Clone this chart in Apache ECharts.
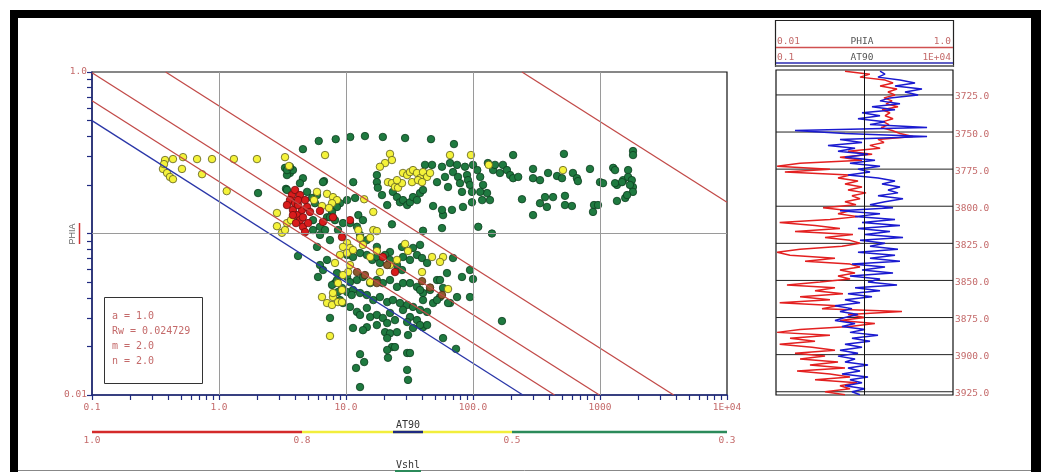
<!DOCTYPE html>
<html><head><meta charset="utf-8">
<script src="https://cdn.jsdelivr.net/npm/echarts@6/dist/echarts.min.js"></script>
<style>html,body{margin:0;padding:0;background:#fff}#c{width:1041px;height:472px}</style>
</head><body><div id="c"></div>
<script>
// ---------- DATA ----------
// Pickett plot: [AT90, PHIA]
const greenPts = [
[6.1,0.374],[8.3,0.384],[10.8,0.396],[14.1,0.401],[19.5,0.396],[29.2,0.39],[46.7,0.384],[70.8,0.358],[4.58,0.333],[207,0.306],[520,0.311],[1820,0.324],[1820,0.306],
[2.03,0.178],[3.31,0.255],[3.62,0.237],[3.43,0.23],[3.82,0.247],[4.58,0.22],[4.34,0.205],[6.71,0.211],[11.4,0.208],[3.37,0.189],[3.43,0.247],[3.62,0.259],[6.59,0.208],[3.43,0.186],[5.91,0.173],
[17.5,0.23],[17.5,0.208],[17.8,0.192],[19.2,0.173],[21.1,0.15],[23.4,0.181],[25.2,0.168],[26.6,0.156],[28.1,0.161],[30.3,0.15],[31.9,0.156],[33.7,0.168],[36.2,0.161],[38.3,0.178],[40.4,0.186],[41.9,0.266],[47.6,0.266],[52.1,0.208],[57,0.259],[60.2,0.224],[63.6,0.194],[65.9,0.273],[69.6,0.24],[74.9,0.266],[76.2,0.224],[79,0.205],[81.9,0.181],[86.5,0.259],[89.7,0.23],[91.3,0.214],[94.7,0.2],[98.2,0.181],[100,0.266],[108,0.247],[114,0.224],[120,0.2],[129,0.178],[131,0.273],[144,0.247],[136,0.161],[118,0.161],[98.2,0.156],[83.4,0.146],[68.3,0.14],[58.1,0.13],[57,0.14],[48.5,0.148],[114,0.181],[149,0.266],[163,0.237],[172,0.266],[185,0.247],[196,0.23],[207,0.22],[227,0.224],[243,0.163],[297,0.251],[297,0.22],[297,0.13],[337,0.214],[369,0.168],[390,0.237],[427,0.168],[459,0.227],[502,0.22],[530,0.15],[530,0.171],[601,0.148],[612,0.237],[658,0.22],[670,0.211],[834,0.251],[1000,0.208],[897,0.15],[964,0.15],[1056,0.205],[1270,0.255],[1360,0.2],[1360,0.159],[1520,0.214],[1580,0.166],[1665,0.247],[1665,0.224],[1780,0.214],[1816,0.194],[1816,0.181],[1720,0.2],[1634,0.173],[1490,0.208],[881,0.136],[1314,0.205],[1314,0.247],[337,0.154],[382,0.146],[23,0.114],[110,0.11],[141,0.1],[57,0.108],[40.4,0.104],
[11.8,0.166],[10.2,0.161],[8.97,0.154],[8.49,0.146],[7.76,0.136],[7.09,0.126],[5.5,0.121],[5.5,0.105],[6.24,0.098],[5.91,0.0826],[7.48,0.091],[8.65,0.105],[10.75,0.116],[12.2,0.11],[12.9,0.098],[14.6,0.091],[17.5,0.0826],[22.2,0.0768],[27.6,0.0826],[33.7,0.0814],[38.3,0.085],[4.94,0.181],[5.4,0.166],[5.7,0.154],[6.24,0.11],[6.84,0.105],[7.48,0.126],[8.19,0.121],[9.47,0.116],[12.5,0.13],[13.6,0.121],
[4.19,0.0726],[6.24,0.0638],[6.59,0.0594],[6.02,0.0538],[8.19,0.0493],[7.76,0.048],[8.65,0.0434],[10.2,0.0736],[11.35,0.0715],[12.9,0.0757],[14.6,0.0736],[16.1,0.0686],[17.5,0.0715],[18.5,0.0657],[20.3,0.0736],[22.2,0.0686],[25.2,0.0638],[27.6,0.0594],[28.1,0.0715],[31.9,0.0686],[36.2,0.0736],[39.7,0.0705],[43.5,0.0657],[10.2,0.0538],[10.75,0.05],[12.2,0.0515],[13.6,0.0538],[15.5,0.0493],[17.5,0.0515],[19.5,0.0493],[22.2,0.0515],[25.2,0.0467],[28.1,0.0493],[31.9,0.0493],[36.2,0.0467],[40.4,0.0428],[45.9,0.0447],[52.1,0.0515],[55,0.0404],[65.9,0.0371],[74.9,0.0404],[9.3,0.046],[10.2,0.0434],[11.35,0.0447],[12.9,0.0428],[14.6,0.0416],[16.4,0.0387],[18.5,0.0404],[21.1,0.0376],[23.4,0.0387],[26.6,0.0371],[30.3,0.0361],[33.7,0.0351],[38.3,0.0336],[43.5,0.0327],[48.5,0.0371],[10.75,0.0351],[12.2,0.0327],[12.9,0.0313],[14.6,0.0346],[15.5,0.0304],[17.5,0.0313],[19.5,0.03],[22.2,0.0322],[24.3,0.0291],[28.1,0.0336],[31.9,0.0304],[36.2,0.0291],[40.4,0.0263],[33.7,0.026],[30.3,0.0283],[21.1,0.0279],[14.6,0.0263],[13.6,0.0252],[11.35,0.026],[20.3,0.0245],[22.2,0.0241],[25.2,0.0245],[21.1,0.0225],[23,0.0198],[24.3,0.0198],[21.1,0.019],[30.8,0.0235],[30.3,0.0182],[30.3,0.0143],[30.8,0.0124],[12.9,0.0179],[13.9,0.016],[12,0.0147],[12.9,0.0112],[7.48,0.03],[58.1,0.0225],[73.5,0.0193],[94.7,0.0404],[81.9,0.0538],[94.7,0.0594],[100,0.0522],[69.6,0.0705],[55,0.0515],[63.6,0.0371],[9.47,0.0371],[8.97,0.0387],[11.1,0.0416],[8.49,0.0515],[8.49,0.0569],[7.09,0.0686],[169,0.0287],[62.4,0.0569],[58.1,0.046],[52.1,0.0387],[38.3,0.0447],[40.4,0.0387],[43.5,0.0271],[38.3,0.0271],[31.9,0.0182],[17.5,0.0271],[21.4,0.017]
];
const yellowPts = [
[0.376,0.285],[0.434,0.289],[0.521,0.297],[0.672,0.289],[0.881,0.289],[1.31,0.289],[1.99,0.289],[3.31,0.297],[6.84,0.306],[0.362,0.251],[0.39,0.237],[0.411,0.224],[0.434,0.217],[0.511,0.251],[0.735,0.233],[1.15,0.183],[0.369,0.269],[3.56,0.262],
[22.2,0.311],[23,0.285],[20.3,0.273],[18.5,0.259],[21.4,0.208],[23,0.205],[24.3,0.194],[25.7,0.192],[28.1,0.237],[30.3,0.23],[31.9,0.24],[33.7,0.247],[36.2,0.237],[38.3,0.22],[40.4,0.24],[43.5,0.224],[45.9,0.237],[33.1,0.208],[36.9,0.214],[39.7,0.208],[27.6,0.205],[25.2,0.214],[65.9,0.306],[96.4,0.306],[133,0.266],[511,0.247],
[2.86,0.134],[2.86,0.111],[3.13,0.101],[3.31,0.105],[3.43,0.116],[3.69,0.121],[5.91,0.181],[7.09,0.176],[7.9,0.168],[8.49,0.161],[7.76,0.154],[7.35,0.144],[6.47,0.148],[5.6,0.161],[13.9,0.163],[16.4,0.136],[16.4,0.105],[17.5,0.1035],[15.5,0.094],[12.9,0.094],[12.5,0.105],[10.2,0.0872],[10.75,0.0814],[9.47,0.0826],[10.2,0.0757],[29.2,0.0862],[30.8,0.0779],[47.6,0.0715],[58.1,0.0715],[55,0.0667],[39.7,0.0577],[63.6,0.0453],[13.6,0.085],[11.35,0.079],[15.5,0.0715],[17.5,0.0779],
[6.47,0.0404],[7.09,0.0371],[7.76,0.0361],[7.9,0.0404],[8.65,0.0376],[9.3,0.0376],[7.9,0.0428],[7.48,0.0232],[8.19,0.0657],[8.65,0.0493],[9.3,0.0447],[10.4,0.0577],[9.47,0.0553],[8.97,0.0736],[10.75,0.0638],[15.5,0.05],[18.5,0.0577],[22.2,0.0638],[25.2,0.0686]
];
const redPts = [
[3.75,0.173],[3.62,0.161],[3.82,0.14],[4.12,0.13],[4.34,0.121],[4.58,0.126],[3.97,0.154],[4.5,0.14],[4.94,0.146],[5.21,0.136],[4.58,0.11],[4.76,0.102],[6.24,0.138],[6.59,0.118],[7.9,0.126],[10.75,0.121],[9.3,0.095],[19.5,0.0715],[24.3,0.0577],[3.43,0.15],[4.19,0.15],[4.04,0.116],[3.97,0.186],[4.34,0.173],[4.76,0.161],[4.19,0.161],[3.82,0.13],[5.03,0.116]
];
const brownPts = [[12.2,0.0577],[14.1,0.0553],[17.5,0.0493],[21.1,0.0638],[39.7,0.0507],[45.9,0.0463],[57,0.0416]];

// Pickett lines (a=1, Rw=0.024729, m=2, n=2), endpoints [AT90, PHIA]
const lineSw100 = [[0.1,0.5],[247,0.01]];
const lineSw75  = [[0.1,0.663],[439,0.01]];
const lineSw50  = [[0.1,0.99],[989,0.01]];
const lineSw25  = [[0.38,1.0],[3800,0.01]];
const lineSwLow = [[243,1.0],[10000,0.156]];

// axis ticks and grid lines
const xAllTicks = [0.1,0.2,0.3,0.4,0.5,0.6,0.7,0.8,0.9,1,2,3,4,5,6,7,8,9,10,20,30,40,50,60,70,80,90,100,200,300,400,500,600,700,800,900,1000,2000,3000,4000,5000,6000,7000,8000,9000,10000];
const yAllTicks = [0.01,0.02,0.03,0.04,0.05,0.06,0.07,0.08,0.09,0.1,0.2,0.3,0.4,0.5,0.6,0.7,0.8,0.9,1];
const xGridValues = [1,10,100,1000];
const yGridValues = [0.1];
const xTickLabels = {'-1':'0.1','0':'1.0','1':'10.0','2':'100.0','3':'1000','4':'1E+04'};
const yTickLabels = {'0':'1.0','-2':'0.01'};

// Vshl colour classes
const vshlBreaks = ['1.0','0.8','0.5','0.3'];
const paramLines = ['a = 1.0','Rw = 0.024729','m = 2.0','n = 2.0'];

// Depth track
const depthTicks = [3725,3750,3775,3800,3825,3850,3875,3900,3925];
const trackDepth = [3709,3711,3713,3715,3717,3719,3721,3723,3725,3727,3729,3731,3733,3735,3737,3739,3741,3743,3745,3747,3749,3751,3753,3755,3757,3759,3761,3763,3765,3767,3769,3771,3773,3775,3777,3779,3781,3783,3785,3787,3789,3791,3793,3795,3797,3799,3801,3803,3805,3807,3809,3811,3813,3815,3817,3819,3821,3823,3825,3827,3829,3831,3833,3835,3837,3839,3841,3843,3845,3847,3849,3851,3853,3855,3857,3859,3861,3863,3865,3867,3869,3871,3873,3875,3877,3879,3881,3883,3885,3887,3889,3891,3893,3895,3897,3899,3901,3903,3905,3907,3909,3911,3913,3915,3917,3919,3921,3923,3925,3927];
const trackPHIA = [0.0602,0.115,0.0889,0.171,0.21,0.15,0.233,0.184,0.221,0.166,0.205,0.175,0.239,0.158,0.194,0.171,0.21,0.162,0.189,0.154,0.205,0.252,0.353,0.142,0.166,0.115,0.15,0.0651,0.122,0.0528,0.0937,0.0187,0.0103,0.0407,0.0126,0.0686,0.0502,0.0845,0.0602,0.0937,0.0651,0.104,0.0722,0.0889,0.0602,0.0801,0.034,0.0686,0.0502,0.0845,0.0407,0.011,0.0276,0.0528,0.0164,0.0741,0.0358,0.0686,0.0889,0.0557,0.0187,0.0103,0.0144,0.0464,0.0213,0.0686,0.0889,0.0528,0.0781,0.0502,0.0686,0.0314,0.0133,0.0464,0.0276,0.0571,0.0187,0.0407,0.011,0.0502,0.0331,0.265,0.0651,0.101,0.0528,0.131,0.0686,0.0187,0.0103,0.0407,0.0144,0.0276,0.011,0.0255,0.0464,0.0164,0.0358,0.0187,0.0502,0.0242,0.0602,0.0173,0.0407,0.0686,0.0276,0.0823,0.0528,0.0686,0.0358,0.0602];
const trackAT90 = [86.7,120,76.1,318,845,230,1330,441,1030,166,86.7,318,51.5,230,26.9,86.7,20.7,120,45.2,1850,0.344,8.89,1850,6.43,26.9,2.94,17.1,5.64,39.7,8.89,62.6,12.3,86.7,20.7,45.2,10.8,76.1,230,98.7,318,146,279,76.1,387,120,45.2,202,6.43,86.7,17.1,230,26.9,318,20.7,166,32.7,387,23.6,120,45.2,279,20.7,230,45.2,318,14.0,120,26.9,202,12.3,86.7,39.7,262,17.1,86.7,10.8,51.5,8.89,23.6,4.64,14.0,6.43,20.7,8.89,4.64,17.1,7.31,32.7,12.3,76.1,14.0,45.2,8.89,26.9,6.43,20.7,5.64,17.1,8.89,39.7,10.8,23.6,7.31,39.7,12.3,26.9,8.89,32.7,14.0,23.6];

// ---------- STYLE ----------
const LBL = '#c46a6a';
const AX = '#1f2a80';
const MONO = '"DejaVu Sans Mono", monospace';
const RED_LINE = '#c24a48';

const chart = echarts.init(document.getElementById('c'), null, {renderer:'canvas'});

function scatter(name, data, fill, border) {
  return {name, type:'scatter', xAxisIndex:0, yAxisIndex:0, data, symbolSize:7.5, z:2,
    itemStyle:{color:fill, borderColor:border, borderWidth:0.8, opacity:1}, silent:true};
}
function pline(data, color) {
  return {type:'line', xAxisIndex:0, yAxisIndex:0, data, showSymbol:false, symbol:'none', z:4,
    lineStyle:{color, width:1.3}, silent:true};
}

const graphics = [
  {type:'rect', shape:{x:10,y:10,width:1031,height:8}, style:{fill:'#000'}},
  {type:'rect', shape:{x:10,y:10,width:8,height:462}, style:{fill:'#000'}},
  {type:'rect', shape:{x:1031,y:10,width:10,height:462}, style:{fill:'#000'}},
  {type:'line', shape:{x1:18,y1:470.5,x2:1031,y2:470.5}, style:{stroke:'#888',lineWidth:1}},
  {type:'text', x:73, y:234, rotation:Math.PI/2, style:{text:'PHIA', fill:'#666', font:'9px "Liberation Sans"', align:'center', verticalAlign:'middle'}},
  {type:'line', shape:{x1:79.5,y1:223,x2:79.5,y2:244}, style:{stroke:'#d03030', lineWidth:1.5}},
  {type:'text', x:408, y:425, style:{text:'AT90', fill:'#333', font:'10px '+MONO, align:'center', verticalAlign:'middle'}},
  {type:'line', shape:{x1:92,y1:432,x2:302,y2:432}, style:{stroke:'#d42a2a', lineWidth:2.5}},
  {type:'line', shape:{x1:302,y1:432,x2:512,y2:432}, style:{stroke:'#f2ee3c', lineWidth:2.5}},
  {type:'line', shape:{x1:512,y1:432,x2:727,y2:432}, style:{stroke:'#2b8a5a', lineWidth:2.5}},
  {type:'line', shape:{x1:393,y1:432,x2:423,y2:432}, style:{stroke:'#1f2a80', lineWidth:2.5}},
  {type:'text', x:408, y:465, style:{text:'Vshl', fill:'#333', font:'10px '+MONO, align:'center', verticalAlign:'middle'}},
  {type:'line', shape:{x1:395,y1:471,x2:421,y2:471}, style:{stroke:'#2b8a5a', lineWidth:2}},
  {type:'rect', shape:{x:104.5,y:297.5,width:98,height:86}, style:{fill:'#fff', stroke:'#333', lineWidth:1}, z:10},
  // header box of track
  {type:'rect', shape:{x:775.5,y:20.5,width:178,height:46}, style:{fill:'#fff', stroke:'#222', lineWidth:1.2}},
  {type:'line', shape:{x1:776,y1:47.5,x2:953,y2:47.5}, style:{stroke:'#d05050', lineWidth:1.5}},
  {type:'line', shape:{x1:776,y1:63,x2:953,y2:63}, style:{stroke:'#2a2ab0', lineWidth:1.5}},
  {type:'line', shape:{x1:775.5,y1:66,x2:953.5,y2:66}, style:{stroke:'#777', lineWidth:2}},
  {type:'text', x:777, y:42, style:{text:'0.01', fill:LBL, font:'9.5px '+MONO, align:'left', verticalAlign:'middle'}},
  {type:'text', x:862, y:42, style:{text:'PHIA', fill:'#555', font:'9.5px '+MONO, align:'center', verticalAlign:'middle'}},
  {type:'text', x:951, y:42, style:{text:'1.0', fill:LBL, font:'9.5px '+MONO, align:'right', verticalAlign:'middle'}},
  {type:'text', x:777, y:58, style:{text:'0.1', fill:LBL, font:'9.5px '+MONO, align:'left', verticalAlign:'middle'}},
  {type:'text', x:862, y:58, style:{text:'AT90', fill:'#555', font:'9.5px '+MONO, align:'center', verticalAlign:'middle'}},
  {type:'text', x:951, y:58, style:{text:'1E+04', fill:LBL, font:'9.5px '+MONO, align:'right', verticalAlign:'middle'}}
];
const barX = [92,302,512,727];
vshlBreaks.forEach((t,i)=>graphics.push({type:'text', x:barX[i], y:441, style:{text:t, fill:LBL, font:'9.5px '+MONO, align:'center', verticalAlign:'middle'}}));
paramLines.forEach((t,i)=>graphics.push({type:'text', x:112, y:316+15*i, z:11, style:{text:t, fill:LBL, font:'10px '+MONO, align:'left', verticalAlign:'middle'}}));

const option = {
  animation:false,
  backgroundColor:'#fff',
  grid:[
    {left:92, top:72, width:635, height:323, show:true, borderColor:'#111', borderWidth:1.2, backgroundColor:'transparent'},
    {left:776, top:70, width:177, height:325, show:true, borderColor:'#111', borderWidth:1.2, backgroundColor:'transparent'}
  ],
  xAxis:[
    {gridIndex:0, type:'log', logBase:10, min:0.1, max:10000,
     axisLine:{show:true, onZero:false, lineStyle:{color:AX, width:1.5}},
     axisTick:{show:true, length:5, customValues:xAllTicks, lineStyle:{color:AX, width:1.2}},
     minorTick:{show:false},
     axisLabel:{color:LBL, fontFamily:'DejaVu Sans Mono', fontSize:9.5, margin:8, formatter:v=>xTickLabels[String(Math.round(Math.log10(v)))]||''},
     splitLine:{show:false}},
    {gridIndex:1, type:'log', logBase:10, min:0.01, max:1, show:false},
    {gridIndex:1, type:'log', logBase:10, min:0.1, max:10000, show:false}
  ],
  yAxis:[
    {gridIndex:0, type:'log', logBase:10, min:0.01, max:1,
     axisLine:{show:true, onZero:false, lineStyle:{color:AX, width:1.5}},
     axisTick:{show:true, length:5, customValues:yAllTicks, lineStyle:{color:AX, width:1.2}},
     axisLabel:{color:LBL, fontFamily:'DejaVu Sans Mono', fontSize:9.5, margin:5, formatter:v=>yTickLabels[String(Math.round(Math.log10(v)))]||''},
     splitLine:{show:false}},
    {gridIndex:1, type:'value', min:3708.2, max:3927.2, inverse:true, show:false}
  ],
  graphic: graphics,
  series:[
    {type:'line', name:'grid', xAxisIndex:0, yAxisIndex:0, data:[], z:1, silent:true,
     markLine:{symbol:'none', silent:true, label:{show:false}, lineStyle:{color:'#9a9a9a', type:'solid', width:1},
       data: xGridValues.map(v=>({xAxis:v})).concat(yGridValues.map(v=>({yAxis:v})))}},
    scatter('Vshl 0.3-0.5', greenPts, '#1f7a40', '#0d3d1e'),
    scatter('Vshl 0.5-0.8', yellowPts, '#f4f23a', '#5a5a20'),
    scatter('Vshl 0.8-1.0', redPts, '#d91c1c', '#6a0d0d'),
    scatter('overlap', brownPts, '#8d5b2e', '#4a2a10'),
    pline(lineSw100, '#2a36a8'),
    pline(lineSw75, RED_LINE),
    pline(lineSw50, RED_LINE),
    pline(lineSw25, RED_LINE),
    pline(lineSwLow, RED_LINE),
    // depth track
    {type:'custom', xAxisIndex:1, yAxisIndex:1, silent:true, clip:false, z:1,
     data: depthTicks.map(d=>[0.1,d]),
     renderItem:(params, api)=>{
       const d = api.value(1);
       const p = api.coord([0.1, d]);
       const cs = params.coordSys;
       return {type:'group', children:[
         {type:'line', shape:{x1:cs.x, y1:p[1], x2:cs.x+cs.width, y2:p[1]}, style:{stroke:'#222', lineWidth:1}},
         {type:'text', x:cs.x+cs.width+2, y:p[1]+2, style:{text:d.toFixed(1), fill:LBL, font:'9.5px '+MONO, align:'left', verticalAlign:'middle'}}
       ]};
     }},
    {type:'line', name:'PHIA', xAxisIndex:1, yAxisIndex:1, showSymbol:false, symbol:'none', z:3, silent:true,
     data: trackDepth.map((d,i)=>[trackPHIA[i], d]),
     lineStyle:{color:'#e32020', width:1.5},
     markLine:{symbol:'none', silent:true, label:{show:false}, lineStyle:{color:'#111', type:'solid', width:1}, data:[{xAxis:0.1}]}},
    {type:'line', name:'AT90', xAxisIndex:2, yAxisIndex:1, showSymbol:false, symbol:'none', z:3, silent:true,
     data: trackDepth.map((d,i)=>[trackAT90[i], d]),
     lineStyle:{color:'#1a1ad0', width:1.5}}
  ]
};
chart.setOption(option);
</script></body></html>
